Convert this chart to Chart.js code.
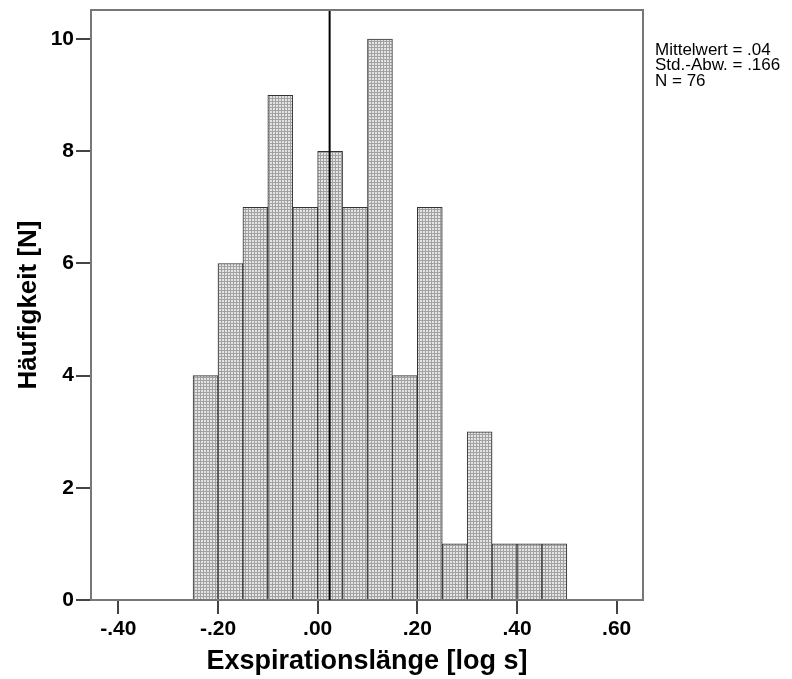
<!DOCTYPE html>
<html>
<head>
<meta charset="utf-8">
<script src="https://cdn.jsdelivr.net/npm/chart.js@4.4.0/dist/chart.umd.min.js"></script>
<style>
  html, body { margin: 0; padding: 0; background: #fff; }
  #wrap { width: 792px; height: 679px; }
</style>
</head>
<body>
<div id="wrap"><canvas id="histChart" width="792" height="679"></canvas></div>
<script>
// Histogram bins (centre of each 0.05 wide bin) and counts
const binCenters = [-0.225, -0.175, -0.125, -0.075, -0.025, 0.025, 0.075, 0.125, 0.175, 0.225, 0.275, 0.325, 0.375, 0.425, 0.475];
const counts = [4, 6, 7, 9, 7, 8, 7, 10, 4, 7, 1, 3, 1, 1, 1];
const xTicks = [-0.4, -0.2, 0, 0.2, 0.4, 0.6];
const yTicks = [0, 2, 4, 6, 8, 10];
const meanLineX = 0.024;
const statsLines = ['Mittelwert = .04', 'Std.-Abw. = .166', 'N = 76'];

const FONT = '"Liberation Sans", Arial, sans-serif';

// dotted grey fill like the SPSS pattern
function makePattern() {
    const p = document.createElement('canvas');
    p.width = 3; p.height = 3;
    const c = p.getContext('2d');
    c.fillStyle = '#a2a2a2';
    c.fillRect(0, 0, 3, 3);
    c.fillStyle = '#e4e4e4';
    c.fillRect(0, 0, 2, 2);
    return document.getElementById('histChart').getContext('2d').createPattern(p, 'repeat');
}

function fmtTick(v) {
    const s = Math.abs(v).toFixed(2).replace(/^0/, '');
    return (v < -1e-9 ? '-' : '') + s;
}

const framePlugin = {
    id: 'frame',
    afterDraw(chart) {
        const ctx = chart.ctx;
        const a = chart.chartArea;
        ctx.save();
        ctx.strokeStyle = '#777';
        ctx.lineWidth = 2;
        ctx.beginPath();
        ctx.moveTo(a.left, a.top);
        ctx.lineTo(a.right, a.top);
        ctx.lineTo(a.right, a.bottom);
        ctx.stroke();
        // stats box text
        ctx.fillStyle = '#000';
        ctx.font = '17px ' + FONT;
        ctx.textBaseline = 'alphabetic';
        statsLines.forEach((t, i) => ctx.fillText(t, a.right + 12, 55 + i * 15.3));
        ctx.restore();
    }
};

const ctx = document.getElementById('histChart').getContext('2d');
new Chart(ctx, {
    data: {
        datasets: [{
            type: 'line',
            data: [{ x: meanLineX, y: 0 }, { x: meanLineX, y: 10.52 }],
            borderColor: '#000',
            borderWidth: 2,
            pointRadius: 0,
            order: 0
        }, {
            type: 'bar',
            data: binCenters.map((x, i) => ({ x: x, y: counts[i] })),
            backgroundColor: makePattern(),
            borderColor: '#333',
            borderWidth: 1,
            borderSkipped: 'start',
            barPercentage: 1,
            categoryPercentage: 1,
            order: 1
        }]
    },
    options: {
        responsive: false,
        animation: false,
        layout: { padding: { top: 10, right: 149, left: 0, bottom: 0 } },
        plugins: {
            legend: { display: false },
            tooltip: { enabled: false }
        },
        scales: {
            x: {
                type: 'linear',
                offset: false,
                min: -0.4548,
                max: 0.6528,
                afterBuildTicks: (s) => { s.ticks = xTicks.map(v => ({ value: v })); },
                afterFit: (s) => { s.height = 79; s.paddingLeft = 0; s.paddingRight = 0; },
                ticks: {
                    color: '#000',
                    padding: 3,
                    font: { family: FONT, size: 21, weight: 'bold' },
                    callback: (v) => fmtTick(v)
                },
                grid: { offset: false, drawOnChartArea: false, tickLength: 14, color: '#444', lineWidth: 2 },
                border: { color: '#777', width: 2 },
                title: {
                    display: true,
                    text: 'Exspirationslänge [log s]',
                    color: '#000',
                    font: { family: FONT, size: 27, weight: 'bold' },
                    padding: { top: 0, bottom: 1 }
                }
            },
            y: {
                min: 0,
                max: 10.52,
                afterBuildTicks: (s) => { s.ticks = yTicks.map(v => ({ value: v })); },
                afterFit: (s) => { s.width = 91; s.paddingTop = 0; s.paddingBottom = 0; },
                ticks: {
                    color: '#000',
                    padding: 2,
                    font: { family: FONT, size: 21, weight: 'bold' }
                },
                grid: { drawOnChartArea: false, tickLength: 15, color: '#444', lineWidth: 2 },
                border: { color: '#777', width: 2 },
                title: {
                    display: true,
                    text: 'Häufigkeit [N]',
                    color: '#000',
                    font: { family: FONT, size: 26, weight: 'bold' },
                    padding: { top: 13, bottom: 0 }
                }
            }
        }
    },
    plugins: [framePlugin]
});
</script>
</body>
</html>
